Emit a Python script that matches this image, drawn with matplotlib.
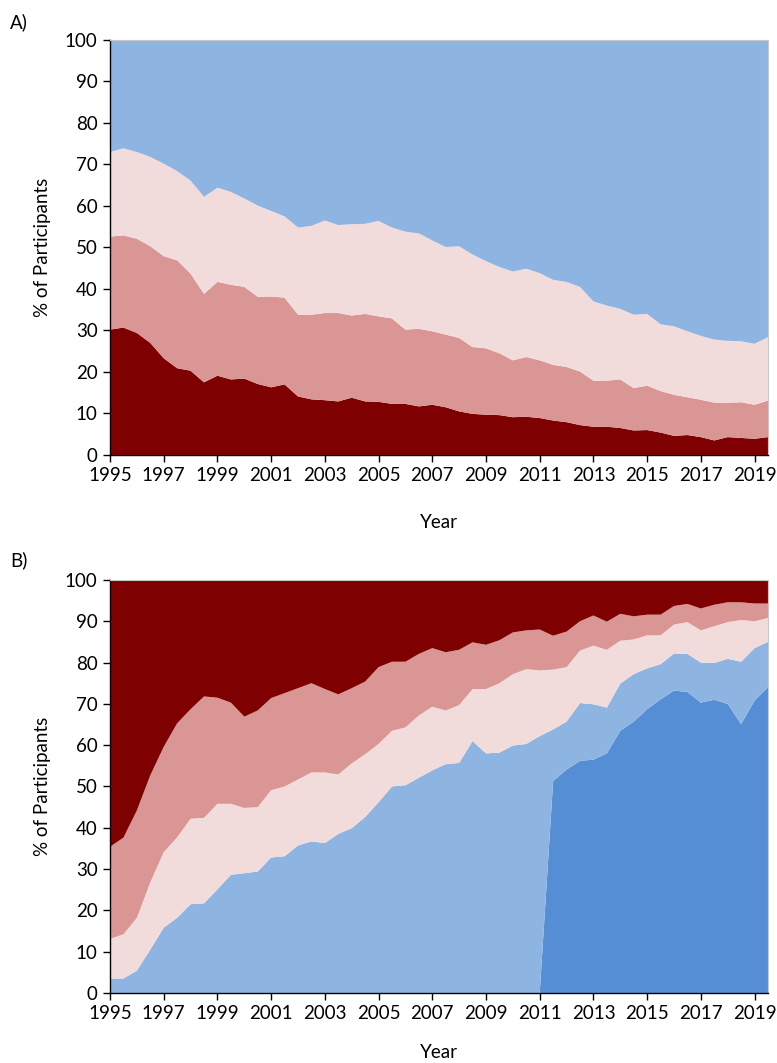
import numpy as np
import matplotlib
matplotlib.use('Agg')
import matplotlib.pyplot as plt

plt.rcParams['font.family'] = ['Lato', 'DejaVu Sans']

# half-year time points, 1995 to 2019.5
years = np.arange(1995, 2020, 0.5)

# Panel A: share of participants per group (bottom to top)
a_dark_red = [30.2, 30.7, 29.4, 27.0, 23.3, 20.9, 20.3, 17.5, 19.1, 18.2, 18.4, 17.1, 16.3, 17.0, 14.1, 13.4, 13.2, 12.9, 13.8, 12.9,
              12.8, 12.3, 12.3, 11.7, 12.1, 11.5, 10.5, 9.9, 9.7, 9.6, 9.1, 9.2, 8.9, 8.3, 7.9, 7.2, 6.8, 6.8, 6.5, 5.9,
              6.0, 5.4, 4.6, 4.8, 4.3, 3.5, 4.3, 4.1, 3.9, 4.3]
a_mid_pink = [22.4, 22.2, 22.7, 23.3, 24.6, 26.0, 23.4, 21.3, 22.6, 22.8, 22.1, 21.0, 21.9, 20.9, 19.7, 20.4, 21.0, 21.3, 19.8, 21.1,
              20.6, 20.6, 17.9, 18.7, 17.7, 17.5, 17.7, 16.1, 16.0, 14.9, 13.7, 14.4, 13.9, 13.4, 13.3, 12.9, 11.1, 11.1, 11.7, 10.2,
              10.7, 10.0, 9.9, 9.1, 9.0, 9.1, 8.3, 8.6, 8.2, 8.8]
a_light_pink = [20.4, 21.0, 20.9, 21.5, 22.3, 21.5, 22.4, 23.4, 22.7, 22.4, 21.3, 22.0, 20.6, 19.6, 21.0, 21.4, 22.3, 21.2, 22.0, 21.7,
                23.0, 21.9, 23.6, 23.0, 21.9, 21.1, 22.1, 22.3, 21.0, 20.8, 21.4, 21.3, 21.0, 20.5, 20.5, 20.4, 19.1, 18.1, 17.0, 17.7,
                17.3, 16.1, 16.5, 15.9, 15.4, 15.2, 14.9, 14.7, 14.7, 15.3]
a_light_blue = [27.0, 26.1, 27.0, 28.2, 29.8, 31.6, 33.9, 37.8, 35.6, 36.6, 38.2, 39.9, 41.2, 42.5, 45.2, 44.8, 43.5, 44.6, 44.4, 44.3,
                43.6, 45.2, 46.2, 46.6, 48.3, 49.9, 49.7, 51.7, 53.3, 54.7, 55.8, 55.1, 56.2, 57.8, 58.3, 59.5, 63.0, 64.0, 64.8, 66.2,
                66.0, 68.5, 69.0, 70.2, 71.3, 72.2, 72.5, 72.6, 73.2, 71.6]

# Panel B: share of participants per group (bottom to top)
b_dark_blue = [0.0] * 33 + [51.3, 54.1, 56.2, 56.5, 58.0, 63.5, 65.7, 68.7, 71.1, 73.2, 72.9, 70.3, 71.0, 70.0, 65.1, 70.8, 74.0]
b_light_blue = [3.5, 3.5, 5.4, 10.5, 15.8, 18.2, 21.5, 21.7, 25.1, 28.6, 29.0, 29.4, 32.8, 33.1, 35.7, 36.7, 36.3, 38.5, 39.9, 42.6,
                46.2, 50.0, 50.3, 52.1, 53.9, 55.4, 55.7, 61.0, 58.0, 58.2, 59.9, 60.3, 62.2,
                12.5, 11.6, 14.0, 13.4, 11.1, 11.4, 11.5, 9.9, 8.5, 9.0, 9.2, 9.7, 8.9, 10.9, 15.1, 12.7, 11.0]
b_light_pink = [9.6, 10.7, 12.8, 16.3, 18.3, 19.5, 20.7, 20.7, 20.7, 17.2, 15.8, 15.6, 16.3, 16.9, 16.0, 16.7, 17.1, 14.4, 15.7, 15.2,
                14.1, 13.5, 14.0, 15.1, 15.4, 13.0, 14.0, 12.6, 15.6, 16.8, 17.3, 18.1, 15.9, 14.5, 13.2, 12.7, 14.2, 14.0, 10.4, 8.4,
                8.0, 7.0, 7.0, 7.7, 7.8, 8.9, 8.9, 10.1, 6.5, 5.8]
b_mid_pink = [22.3, 23.4, 26.0, 25.9, 25.5, 27.6, 26.5, 29.4, 25.7, 24.5, 22.1, 23.4, 22.3, 22.6, 22.1, 21.6, 20.2, 19.4, 18.2, 17.6,
              18.6, 16.7, 15.9, 14.9, 14.2, 14.1, 13.4, 11.3, 10.7, 10.4, 10.1, 9.4, 9.9, 8.2, 8.6, 7.1, 7.3, 6.8, 6.5, 5.6,
              5.0, 5.0, 4.5, 4.4, 5.3, 5.2, 4.8, 4.3, 4.3, 3.5]
b_dark_red = [64.6, 62.4, 55.8, 47.3, 40.4, 34.7, 31.3, 28.2, 28.5, 29.7, 33.1, 31.6, 28.6, 27.4, 26.2, 25.0, 26.4, 27.7, 26.2, 24.6,
              21.1, 19.8, 19.8, 17.9, 16.5, 17.5, 16.9, 15.1, 15.7, 14.6, 12.7, 12.2, 12.0, 13.5, 12.5, 10.0, 8.6, 10.1, 8.2, 8.8,
              8.4, 8.4, 6.3, 5.8, 6.9, 6.0, 5.4, 5.4, 5.7, 5.7]

DARK_RED = '#7F0000'
MID_PINK = '#D99694'
LIGHT_PINK = '#F2DCDB'
LIGHT_BLUE = '#8EB4E2'
DARK_BLUE = '#558ED5'

fig = plt.figure(figsize=(7.77, 10.63), dpi=100)
ax_a = fig.add_axes([0.1416, 0.5720, 0.8468, 0.3904])
ax_b = fig.add_axes([0.1416, 0.0659, 0.8468, 0.3885])

ax_a.stackplot(years, a_dark_red, a_mid_pink, a_light_pink, a_light_blue,
               colors=[DARK_RED, MID_PINK, LIGHT_PINK, LIGHT_BLUE], linewidth=0)
ax_b.stackplot(years, b_dark_blue, b_light_blue, b_light_pink, b_mid_pink, b_dark_red,
               colors=[DARK_BLUE, LIGHT_BLUE, LIGHT_PINK, MID_PINK, DARK_RED], linewidth=0)

for ax in (ax_a, ax_b):
    ax.set_xlim(1995, 2019.5)
    ax.set_ylim(0, 100)
    ax.set_xticks(np.arange(1995, 2020, 2))
    ax.set_yticks(np.arange(0, 101, 10))
    ax.tick_params(direction='out', length=5, width=1, colors='black', labelsize=13.5, pad=4)
    for side in ('left', 'bottom'):
        ax.spines[side].set_color('black')
        ax.spines[side].set_linewidth(1)
    for side in ('top', 'right'):
        ax.spines[side].set_color('#C8C8C8')
        ax.spines[side].set_linewidth(0.8)
    ax.set_ylabel('% of Participants', fontsize=13.5, labelpad=10)

fig.text(10 / 777, 1 - 22 / 1063, 'A)', fontsize=13.5, va='center', ha='left')
fig.text(10 / 777, 1 - 560 / 1063, 'B)', fontsize=13.5, va='center', ha='left')
fig.text((110 + 768) / 2 / 777, 1 - 522 / 1063, 'Year', fontsize=13.5, va='center', ha='center')
fig.text((110 + 768) / 2 / 777, 1 - 1053 / 1063, 'Year', fontsize=13.5, va='center', ha='center')

fig.savefig('out.png', dpi=100)
